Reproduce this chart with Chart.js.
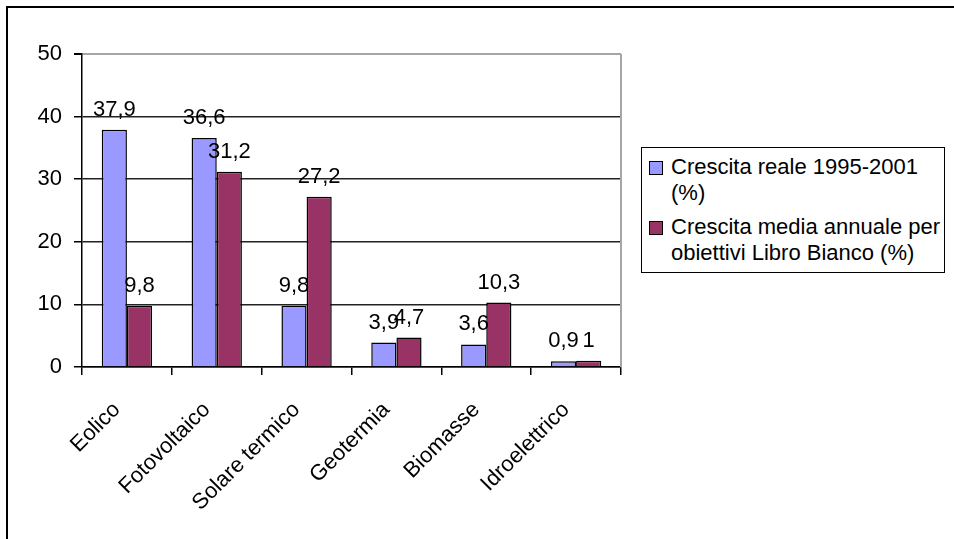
<!DOCTYPE html>
<html>
<head>
<meta charset="utf-8">
<script src="https://cdn.jsdelivr.net/npm/chart.js@4/dist/chart.umd.min.js"></script>
<style>
  html, body { margin: 0; padding: 0; background: #fff; }
  #wrap { position: relative; width: 954px; height: 539px; overflow: hidden; font-family: "Liberation Sans", Arial, sans-serif; }
  #frame { position: absolute; left: 6px; top: 6px; width: 1000px; height: 600px; border-top: 2px solid #000; border-left: 2px solid #000; }
  canvas { position: absolute; left: 0; top: 0; }
  #legend { position: absolute; left: 641px; top: 147px; width: 302px; height: 124px; border: 1.5px solid #000; background: #fff; }
  .item { position: absolute; left: 29px; font-size: 22px; line-height: 26px; color: #000; white-space: nowrap; }
  .sw { position: absolute; left: 7px; width: 12px; height: 12px; border: 1px solid #000; }
</style>
</head>
<body>
<div id="wrap">
  <div id="frame"></div>
  <canvas id="c" width="954" height="539"></canvas>
  <div id="legend"></div>
</div>
<script>
const categories = ['Eolico', 'Fotovoltaico', 'Solare termico', 'Geotermia', 'Biomasse', 'Idroelettrico'];
const crescitaReale = [37.9, 36.6, 9.8, 3.9, 3.6, 0.9];
const crescitaLibroBianco = [9.8, 31.2, 27.2, 4.7, 10.3, 1];
const seriesLabels = [['Crescita reale 1995-2001', '(%)'], ['Crescita media annuale per', 'obiettivi Libro Bianco (%)']];
const seriesColors = ['#9999FF', '#993366'];
const yTicks = [0, 10, 20, 30, 40, 50];

const FONT = '"Liberation Sans", Arial, sans-serif';

const valueLabels = {
  id: 'valueLabels',
  beforeDatasetsDraw(chart) {
    const { ctx, chartArea } = chart;
    ctx.save();
    ctx.strokeStyle = '#a6a6a6';
    ctx.lineWidth = 2;
    ctx.beginPath();
    ctx.moveTo(chartArea.right, chartArea.top);
    ctx.lineTo(chartArea.right, chartArea.bottom);
    ctx.stroke();
    ctx.restore();
  },
  afterDatasetsDraw(chart) {
    const ctx = chart.ctx;
    ctx.save();
    ctx.font = '22px ' + FONT;
    ctx.fillStyle = '#000';
    ctx.textAlign = 'center';
    ctx.textBaseline = 'alphabetic';
    chart.data.datasets.forEach((ds, i) => {
      chart.getDatasetMeta(i).data.forEach((bar, j) => {
        const txt = String(ds.data[j]).replace('.', ',');
        ctx.fillText(txt, bar.x, bar.y - 14);
      });
    });
    ctx.restore();
  }
};

new Chart(document.getElementById('c'), {
  type: 'bar',
  data: {
    labels: categories,
    datasets: [
      { label: seriesLabels[0].join(' '), data: crescitaReale, backgroundColor: seriesColors[0], borderColor: '#000', borderWidth: 1.5, categoryPercentage: 0.56, barPercentage: 1 },
      { label: seriesLabels[1].join(' '), data: crescitaLibroBianco, backgroundColor: seriesColors[1], borderColor: '#000', borderWidth: 1.5, categoryPercentage: 0.56, barPercentage: 1 }
    ]
  },
  options: {
    responsive: false,
    animation: false,
    devicePixelRatio: 1,
    layout: { padding: { left: 0, top: 54, right: 333, bottom: 0 } },
    plugins: { legend: { display: false }, tooltip: { enabled: false } },
    scales: {
      x: {
        offset: true,
        grid: { offset: true, drawOnChartArea: false, color: '#000', tickLength: 8, lineWidth: 1.5 },
        border: { color: '#000', width: 1.5 },
        ticks: { color: '#000', font: { family: FONT, size: 22 }, minRotation: 45, maxRotation: 45, padding: 22, labelOffset: -10 },
        afterFit(scale) { scale.height = 539 - 367; }
      },
      y: {
        min: 0, max: 50,
        afterBuildTicks(scale) { scale.ticks = yTicks.map(v => ({ value: v })); },
        grid: {
          color: (c) => (c.tick && c.tick.value === 50) ? '#a6a6a6' : '#222',
          lineWidth: (c) => (c.tick && c.tick.value === 50) ? 2 : 1.5,
          tickColor: '#000', tickLength: 8
        },
        border: { color: '#000', width: 1.5 },
        ticks: { color: '#000', font: { family: FONT, size: 22 }, padding: 12 },
        afterFit(scale) { scale.width = 82; }
      }
    }
  },
  plugins: [valueLabels]
});

const legend = document.getElementById('legend');
const tops = [6, 66];
seriesLabels.forEach((lines, i) => {
  const sw = document.createElement('div');
  sw.className = 'sw';
  sw.style.background = seriesColors[i];
  sw.style.top = (tops[i] + 7) + 'px';
  legend.appendChild(sw);
  const it = document.createElement('div');
  it.className = 'item';
  it.style.top = tops[i] + 'px';
  lines.forEach((ln, k) => {
    if (k) it.appendChild(document.createElement('br'));
    it.appendChild(document.createTextNode(ln));
  });
  legend.appendChild(it);
});
</script>
</body>
</html>
